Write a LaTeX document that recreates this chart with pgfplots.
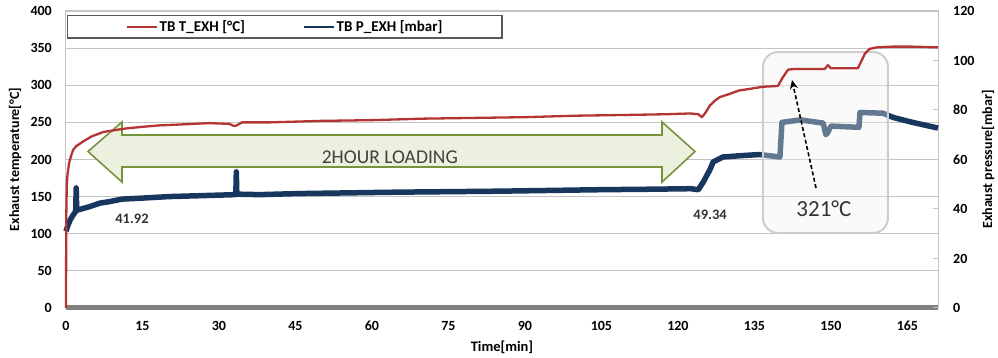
\documentclass[border=0pt]{standalone}
\usepackage{fontspec}
\setmainfont{Carlito}
\usepackage{pgfplots}
\usepackage{pgfplotstable}
\usetikzlibrary{arrows.meta}
\pgfplotsset{compat=1.18}
\definecolor{tred}{RGB}{180,52,52}
\definecolor{pblue}{RGB}{23,55,94}
\definecolor{gridgray}{RGB}{196,196,196}
\definecolor{zerogray}{RGB}{128,128,128}
\definecolor{arrgreen}{RGB}{119,147,60}
\definecolor{arrfill}{RGB}{235,241,222}
\definecolor{boxgray}{RGB}{205,205,205}
\definecolor{boxfill}{RGB}{242,242,242}

\pgfplotstableread{
t T
0 0
0.05 120
0.15 165
0.3 180
0.6 195
1 205
1.4 213
2 218
3.3 224
5 231
7.3 237
10 240
12 242
15 244
18.4 246
22 247
28 249
32 248
33 245
33.5 246
34.5 250
40 250
45 251
50 252
60 253
70 255
80 256
90 257
100 259
110 260
118 261
122.4 262
124 261
124.7 257
125.3 262
126.3 273
127.2 279
128.2 284
130 288
132 293
134 295
136.7 298
139.6 299
140.6 311
141.6 321
143 322
146 322
148.8 322
149.4 327
150 323
153 323
155.3 323
156 333
156.7 343
157.6 349
159 351
162 352
166 352
171 351
}\temp

\pgfplotstableread{
t P
0 31
0.3 33
0.8 35.5
1.4 37.6
1.9 39
2.0 48.5
2.1 39.5
3 40
4.7 41
6.7 42.4
8.6 43
11 44
15 44.4
20 45
25 45.3
30 45.6
33.3 45.8
33.4 55
33.5 46
38 45.8
45 46.2
55 46.5
65 46.8
75 47
85 47.2
95 47.5
105 47.8
115 48
122.5 48.2
124 47.8
125 51
126.3 56
126.9 59
128.8 61
132 61.5
136 62
138 61.5
140 61
140.4 75
144 76
148.5 74.7
149.0 70
149.4 71
150 73.5
155.5 73
155.7 79
160.2 78.7
162.2 77
166 75
171 72.7
}\pres

\pgfplotsset{
  base/.style={
    at={(0,0)}, anchor=south west, scale only axis,
    width=872pt, height=297pt, xmin=0, xmax=171,
    clip=false,
    /pgf/number format/assume math mode=true,
  }
}

\begin{document}
\begin{tikzpicture}
\path[use as bounding box] (-66pt,-50pt) rectangle (932pt,308pt);

% Axis A: left scale, grid, box
\begin{axis}[base,
  ymin=0, ymax=400,
  xtick={0,15,...,165}, ytick={0,50,...,400},
  ymajorgrids, grid style={draw=gridgray, line width=1.2pt},
  axis line style={draw=gridgray, line width=1pt},
  major tick length=0pt,
  tick label style={font=\fontsize{14}{16}\selectfont\bfseries, inner sep=0pt},
  yticklabel style={anchor=east, xshift=-14pt},
  xticklabel style={anchor=north, yshift=-13pt},
  every axis y label/.style={at={(axis description cs:0,0.5)}, xshift=-51pt, rotate=90, anchor=center},
  every axis x label/.style={at={(axis description cs:0.5,0)}, yshift=-39pt, anchor=center},
  xlabel={\fontsize{14.5}{16}\selectfont\bfseries Time[min]},
  ylabel={\fontsize{14}{16}\selectfont\bfseries Exhaust temperature[°C]},
]
\addplot[draw=zerogray, line width=5pt] coordinates {(0,0) (171,0)};
\end{axis}

% Axis B: right scale, pressure + annotations
\begin{axis}[base,
  ymin=0, ymax=120,
  axis x line=none, axis y line*=right,
  ytick={0,20,...,120},
  axis line style={draw=gridgray, line width=1pt},
  ytick style={draw=gridgray, line width=1pt},
  tick align=inside, major tick length=5pt,
  tick label style={font=\fontsize{14}{16}\selectfont\bfseries, inner sep=0pt},
  yticklabel style={anchor=west, xshift=15pt},
  every axis y label/.style={at={(axis description cs:1,0.5)}, xshift=50pt, rotate=90, anchor=center},
  ylabel={\fontsize{14}{16}\selectfont\bfseries Exhaust pressure[mbar]},
]
\addplot[draw=pblue, line width=5.5pt, line join=round] table[x=t, y=P] {\pres};
% green double arrow
\draw[draw=arrgreen, fill=arrfill, line width=1.6pt, line join=miter]
  (axis cs:4.31,63.23) -- (axis cs:10.98,75.15) -- (axis cs:10.98,69.90) --
  (axis cs:116.88,69.90) -- (axis cs:116.88,75.15) -- (axis cs:123.35,63.23) --
  (axis cs:116.88,50.91) -- (axis cs:116.88,56.97) -- (axis cs:10.98,56.97) --
  (axis cs:10.98,50.91) -- cycle;
\node[text=black!75, font=\fontsize{19.5}{22}\selectfont] at (axis cs:63.5,61.0) {2HOUR LOADING};
\node[text=black!80, font=\fontsize{14.5}{16}\selectfont\bfseries] at (axis cs:12.94,35.96) {41.92};
\node[text=black!80, font=\fontsize{14.5}{16}\selectfont\bfseries] at (axis cs:126.3,37.57) {49.34};
% translucent rounded box
\draw[draw=boxgray, line width=2pt, fill=boxfill, fill opacity=0.35, rounded corners=15pt]
  (axis cs:136.68,30.30) rectangle (axis cs:161.19,103.43);
\node[text=black!80, font=\fontsize{23}{26}\selectfont] at (axis cs:148.64,40.0) {321°C};
\draw[black, dashed, dash pattern=on 4pt off 2.5pt, line width=1.6pt, -{Stealth[length=9pt,width=8pt]}]
  (axis cs:147.08,48.48) -- (axis cs:142.37,92.12);
\end{axis}

% Axis C: temperature line + legend
\begin{axis}[base,
  ymin=0, ymax=400, hide axis,
  legend columns=2,
  legend image code/.code={\draw[#1, line width=2.6pt] (0pt,0pt) -- (30pt,0pt);},
  legend style={at={(axis description cs:0,1)}, anchor=north west, xshift=1pt, yshift=-4pt,
    draw=black!65, line width=1.2pt, fill=white,
    inner xsep=58pt, inner ysep=3.5pt,
    font=\fontsize{15}{17}\selectfont\bfseries,
    nodes={inner sep=1.5pt},
    /tikz/every even column/.append style={column sep=56pt}},
]
\addplot[draw=tred, line width=2.3pt, line join=round] table[x=t, y=T] {\temp};
\addlegendentry{TB T\_EXH [°C]}
\addlegendimage{draw=pblue}
\addlegendentry{TB P\_EXH [mbar]}
\end{axis}
\end{tikzpicture}
\end{document}
